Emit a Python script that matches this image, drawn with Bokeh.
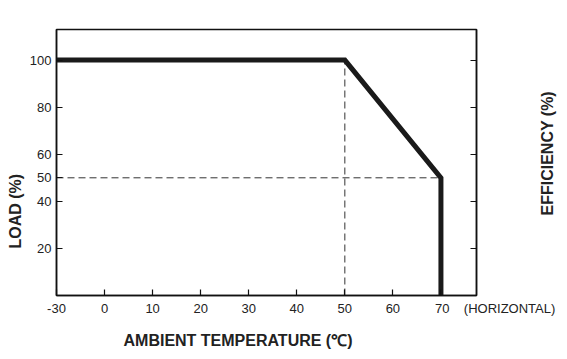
import math
from bokeh.plotting import figure
from bokeh.models import LinearAxis, FixedTicker, Range1d, Title
from bokeh.embed import file_html
from bokeh.resources import INLINE

# ---- data ----
temps = [-30, 50, 70, 70]          # ambient temperature (°C)
load = [100, 100, 50, 0]           # load (%)
x_tick_temps = [-30, 0, 10, 20, 30, 40, 50, 60, 70]
y_ticks_left = [20, 40, 50, 60, 80, 100]
y_ticks_right = [20, 40, 60, 80, 100]
guide_temp = 50
guide_load = 50

def to_axis(t):
    # broken axis: the -30..0 span is drawn compressed like a single 10° step
    return t // 3 if t < 0 else t

xs = [to_axis(t) for t in temps]

FONT = "Liberation Sans"
TXT = "#222222"
NB = "\u00a0"

p = figure(width=567, height=359, output_backend="svg", toolbar_location=None,
           x_range=Range1d(-10, 77.4), y_range=Range1d(0, 113),
           min_border_left=56, min_border_right=91, min_border_top=29,
           min_border_bottom=60)
p.xaxis.visible = False
p.yaxis.visible = False
p.grid.visible = False
p.outline_line_color = "#111111"
p.outline_line_width = 1.5
p.background_fill_color = "white"
p.border_fill_color = "white"

def style_axis(ax, labels=True):
    ax.axis_line_color = "#111111"
    ax.axis_line_width = 1.5
    ax.major_tick_in = 6
    ax.major_tick_out = 0
    ax.major_tick_line_color = "#111111"
    ax.major_tick_line_width = 1.2
    ax.minor_tick_line_color = None
    ax.major_label_text_font = FONT
    ax.major_label_text_font_size = "13px"
    ax.major_label_text_color = TXT if labels else None
    ax.major_label_standoff = 5

# x tick labels; the last one also carries the "(HORIZONTAL)" note to its right
x_labels = {to_axis(t): str(t) for t in x_tick_temps}
x_labels[to_axis(70)] = NB * 30 + "70" + NB * 4 + "(HORIZONTAL)"

xax = LinearAxis(ticker=FixedTicker(ticks=[to_axis(t) for t in x_tick_temps]),
                 major_label_overrides=x_labels)
style_axis(xax)
p.add_layout(xax, "below")

lax = LinearAxis(ticker=FixedTicker(ticks=y_ticks_left))
style_axis(lax)
p.add_layout(lax, "left")

rax = LinearAxis(ticker=FixedTicker(ticks=y_ticks_right),
                 major_label_overrides={t: "" for t in y_ticks_right})
style_axis(rax, labels=False)
p.add_layout(rax, "right")

# right-hand title, reading bottom to top (anchored at its lower end)
eff_anchor = 34
eff = LinearAxis(ticker=FixedTicker(ticks=[eff_anchor]),
                 major_label_overrides={eff_anchor: "EFFICIENCY (%)"})
eff.axis_line_color = None
eff.major_tick_line_color = None
eff.minor_tick_line_color = None
eff.major_tick_in = 0
eff.major_tick_out = 0
eff.major_label_orientation = math.pi / 2
eff.major_label_standoff = 71
eff.major_label_text_font = FONT
eff.major_label_text_font_style = "bold"
eff.major_label_text_font_size = "16px"
eff.major_label_text_color = TXT
p.add_layout(eff, "right")

# dashed guides
p.line([to_axis(guide_temp), to_axis(guide_temp)], [0, load[0]],
       line_color="#333333", line_width=1, line_dash="7 4")
p.line([to_axis(temps[0]), to_axis(temps[2])], [guide_load, guide_load],
       line_color="#333333", line_width=1, line_dash="7 4")

# derating curve
p.line(xs, load, line_color="#1a1a1a", line_width=5, line_join="miter")

# axis titles
p.add_layout(Title(text="LOAD (%)", align="left", offset=47, standoff=5,
                   text_font=FONT, text_font_style="bold", text_font_size="16px",
                   text_color=TXT), "left")
p.add_layout(Title(text="AMBIENT TEMPERATURE (\u2103)", align="left", offset=67,
                   standoff=22, text_font=FONT, text_font_style="bold",
                   text_font_size="16px", text_color=TXT), "below")

open("out.html", "w").write(file_html(p, INLINE))
